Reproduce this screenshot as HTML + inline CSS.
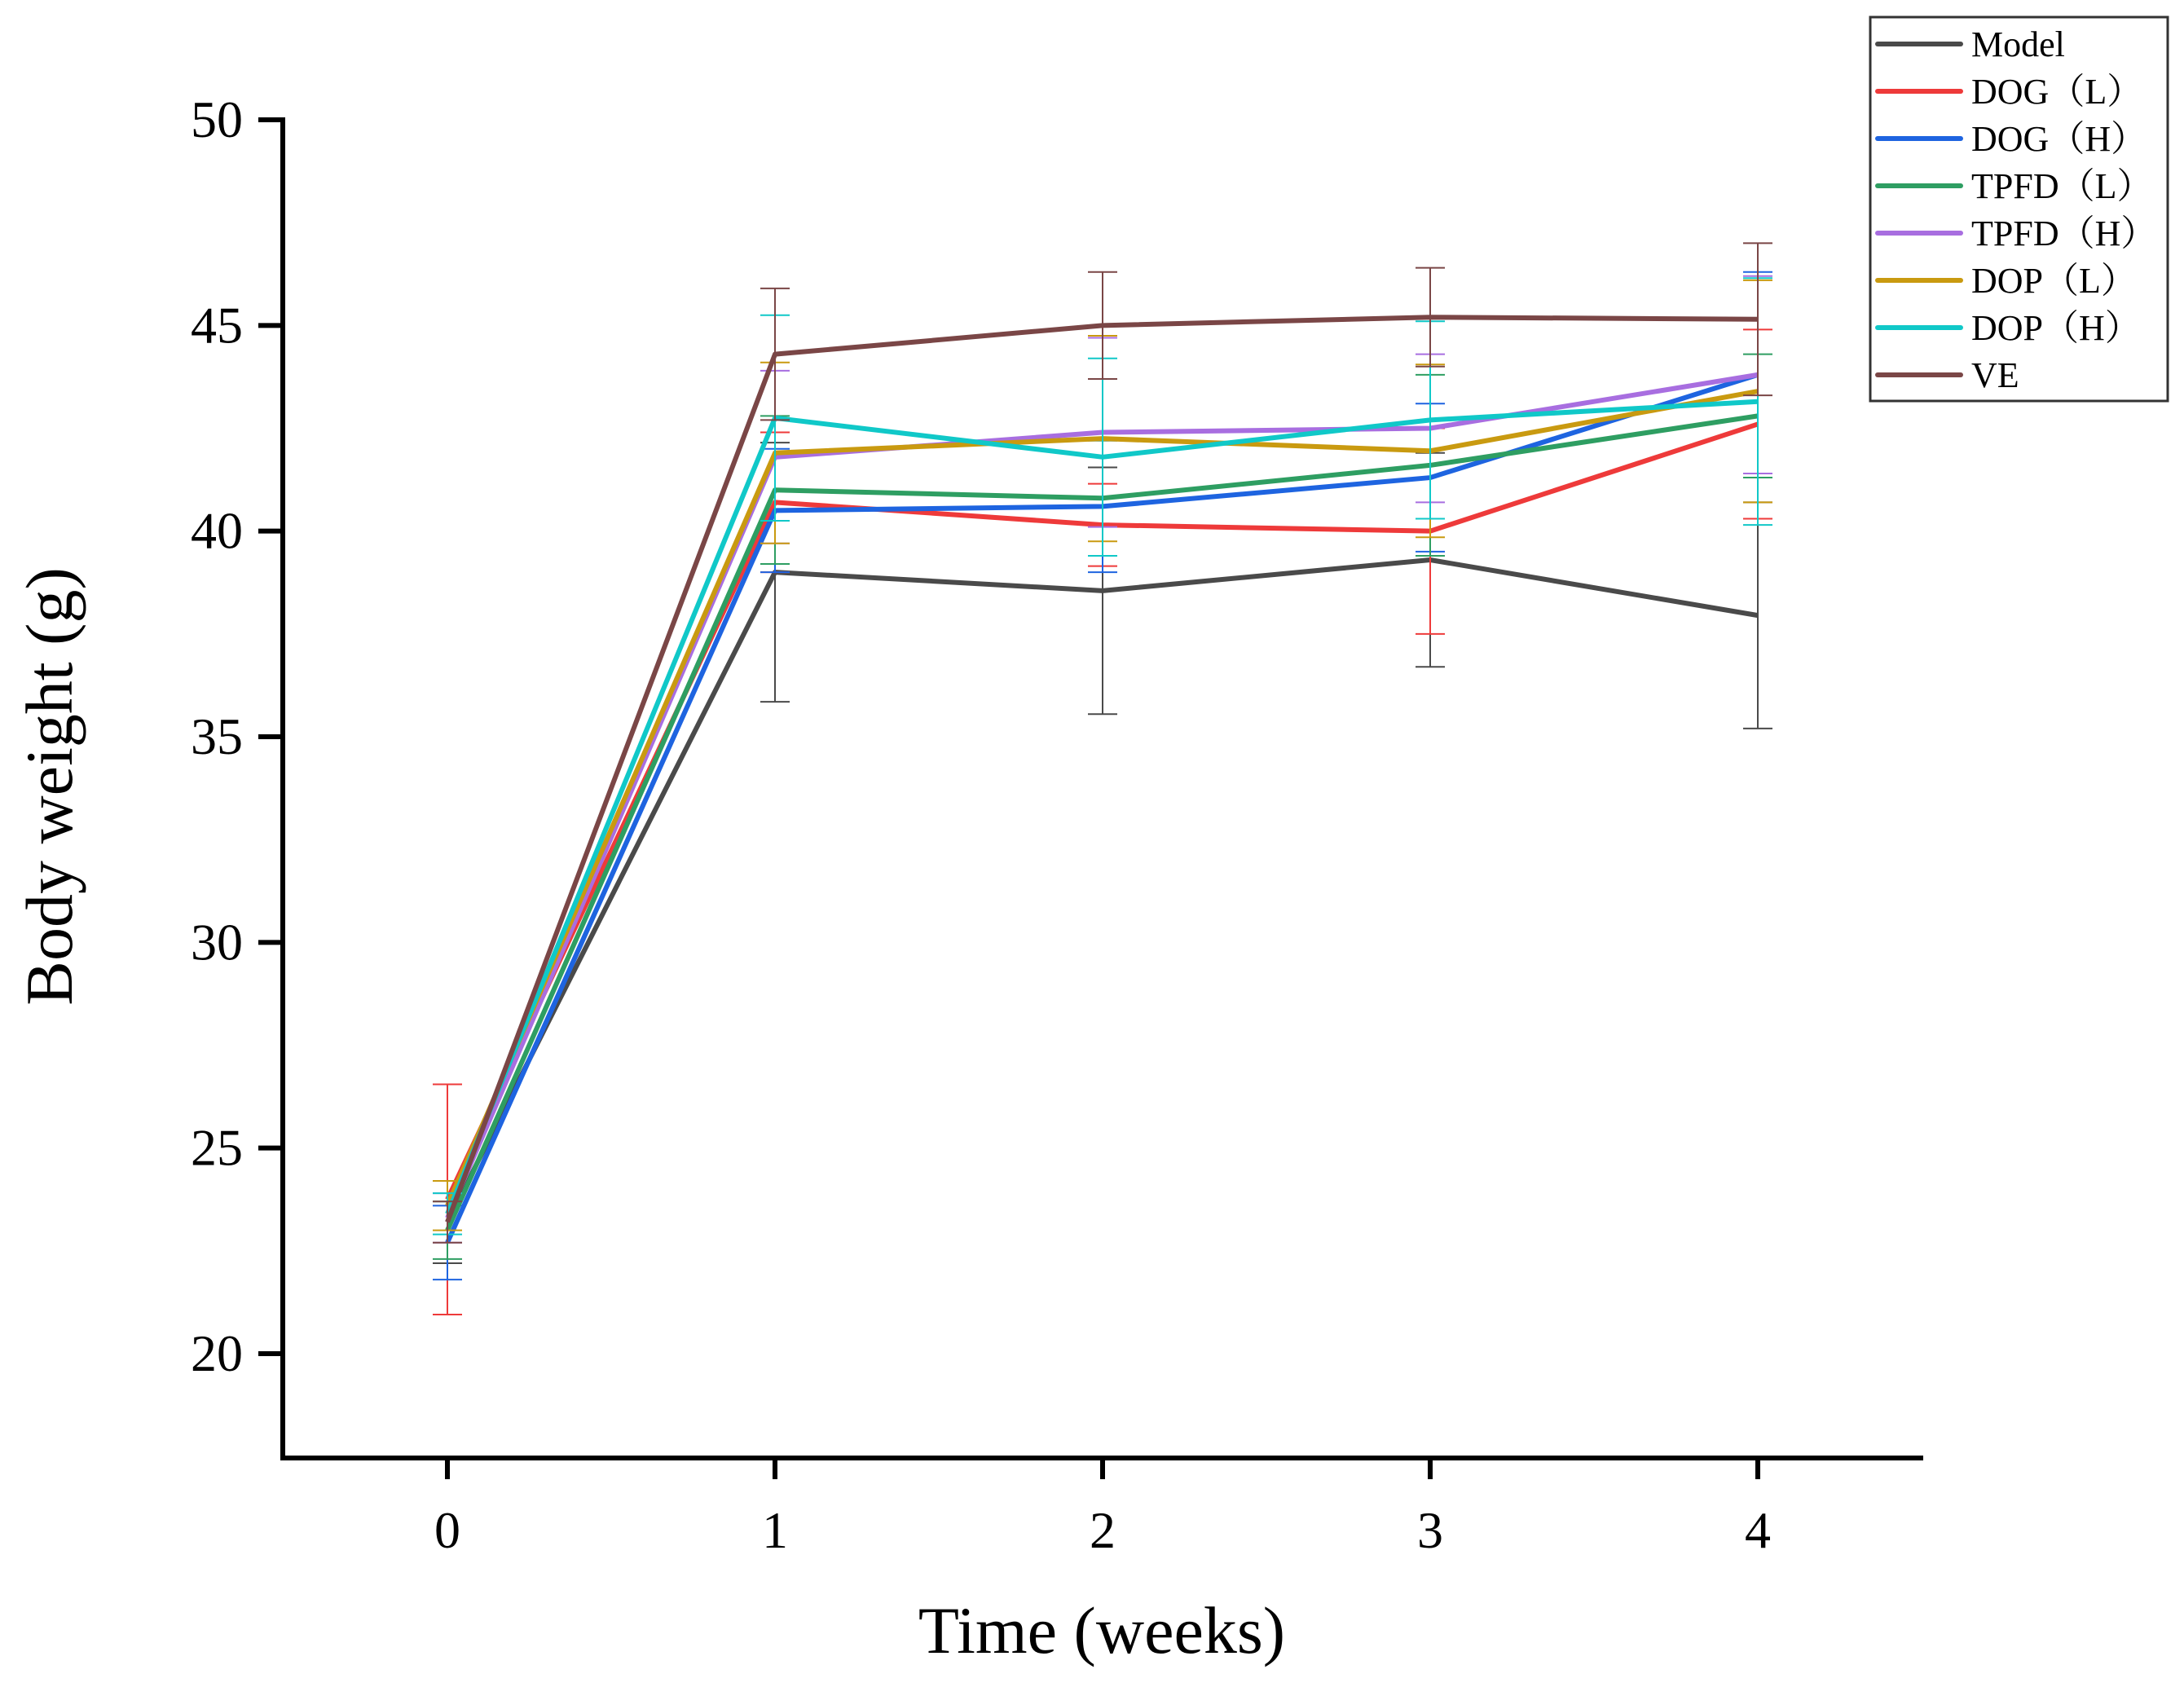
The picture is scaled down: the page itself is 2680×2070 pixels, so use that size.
<!DOCTYPE html>
<html><head><meta charset="utf-8"><style>
html,body{margin:0;padding:0;background:#fff;}
svg{display:block;font-family:"Liberation Serif","Noto Serif CJK SC",serif;}
</style></head><body>
<svg id="chart" width="2680" height="2070" viewBox="0 0 2680 2070" xmlns="http://www.w3.org/2000/svg">
<rect width="2680" height="2070" fill="#fff"/>
<g id="series-layer"></g>
<g id="axes"></g>
<text x="0" y="0" transform="translate(88,965) rotate(-90)" text-anchor="middle" font-size="82">Body weight (g)</text>
<text x="1352" y="2028" text-anchor="middle" font-size="82">Time (weeks)</text>
<g id="legend"></g>
</svg>
<script>
const weeks = [0, 1, 2, 3, 4];
const yTicks = [20, 25, 30, 35, 40, 45, 50];
const seriesNames = ["Model", "DOG（L）", "DOG（H）", "TPFD（L）", "TPFD（H）", "DOP（L）", "DOP（H）", "VE"];
const seriesColors = ["#4a4a4a", "#ee3a3a", "#1e64e0", "#2e9e62", "#a86ee0", "#c99a10", "#10c8c8", "#7a4646"];
const modelVals = [23.2, 39.0, 38.55, 39.3, 37.95];
const dogLVals = [23.75, 40.7, 40.15, 40.0, 42.6];
const dogHVals = [22.7, 40.5, 40.6, 41.3, 43.8];
const tpfdLVals = [23.0, 41.0, 40.8, 41.6, 42.8];
const tpfdHVals = [23.3, 41.8, 42.4, 42.5, 43.8];
const dopLVals = [23.6, 41.9, 42.25, 41.95, 43.4];
const dopHVals = [23.4, 42.75, 41.8, 42.7, 43.15];
const veVals = [23.2, 44.3, 45.0, 45.2, 45.15];
const modelErr = [1.0, 3.15, 3.0, 2.6, 2.75];
const dogLErr = [2.8, 1.7, 1.0, 2.5, 2.3];
const dogHErr = [0.9, 1.5, 1.6, 1.8, 2.5];
const tpfdLErr = [0.7, 1.8, 1.4, 2.2, 1.5];
const tpfdHErr = [0.6, 2.1, 2.3, 1.8, 2.4];
const dopLErr = [0.6, 2.2, 2.5, 2.1, 2.7];
const dopHErr = [0.5, 2.5, 2.4, 2.4, 3.0];
const veErr = [0.5, 1.6, 1.3, 1.2, 1.85];
const allVals = [modelVals, dogLVals, dogHVals, tpfdLVals, tpfdHVals, dopLVals, dopHVals, veVals];
const allErr = [modelErr, dogLErr, dogHErr, tpfdLErr, tpfdHErr, dopLErr, dopHErr, veErr];

const NS = "http://www.w3.org/2000/svg";
const X0 = 549, X4 = 2157, Y50 = 147, Y20 = 1661;
function xScale(w){ return X0 + (X4 - X0) * (w - 0) / 4; }
function yScale(v){ return Y20 + (Y50 - Y20) * (v - 20) / 30; }
function mk(tag, attrs, parent){ const e = document.createElementNS(NS, tag); for (const k in attrs) e.setAttribute(k, attrs[k]); parent.appendChild(e); return e; }

const axes = document.getElementById("axes");
const AXL = 347, AXB = 1789, AXR = 2360;
const yAxis = mk("line", {x1: AXL, y1: Y50 - 3, x2: AXL, y2: AXB + 3, stroke: "#000", "stroke-width": 6}, axes);


const xAxis = mk("line", {x1: AXL - 3, y1: AXB, x2: AXR, y2: AXB, stroke: "#000", "stroke-width": 6}, axes);


yTicks.forEach(t => {
  const y = yScale(t);
  const tk = mk("line", {x1: AXL - 30, y1: y, x2: AXL, y2: y, stroke: "#000", "stroke-width": 6}, axes);
  
  
  const lb = mk("text", {x: 298, y: y + 21, "text-anchor": "end", "font-size": 64}, axes);
  lb.textContent = t;
  
  
});
weeks.forEach(w => {
  const x = xScale(w);
  const tk = mk("line", {x1: x, y1: AXB, x2: x, y2: AXB + 26, stroke: "#000", "stroke-width": 6}, axes);
  
  
  const lb = mk("text", {x: x, y: 1899, "text-anchor": "middle", "font-size": 64}, axes);
  lb.textContent = w;
  
  
});

const layer = document.getElementById("series-layer");
allVals.forEach((vals, si) => {
  const g = mk("g", {}, layer);
  
  
  const col = seriesColors[si];
  vals.forEach((v, i) => {
    const x = xScale(weeks[i]), e = allErr[si][i];
    const yt = yScale(v + e), yb = yScale(v - e);
    const eb = mk("path", {d: `M${x},${yt}V${yb}M${x-18},${yt}H${x+18}M${x-18},${yb}H${x+18}`, stroke: col, "stroke-width": 2, fill: "none"}, g);
    
    
  });
  const pts = vals.map((v, i) => xScale(weeks[i]) + "," + yScale(v)).join(" ");
  const pl = mk("polyline", {points: pts, stroke: col, "stroke-width": 6, fill: "none", "stroke-linejoin": "round"}, g);
  
  
});

const lg = document.getElementById("legend");
const box = mk("rect", {x: 2295, y: 21, width: 365, height: 471, fill: "#fff", stroke: "#333", "stroke-width": 3}, lg);


seriesNames.forEach((n, i) => {
  const y = 54 + i * 58;
  const ln = mk("line", {x1: 2304, y1: y, x2: 2406, y2: y, stroke: seriesColors[i], "stroke-width": 6, "stroke-linecap": "round"}, lg);
  
  
  const t = mk("text", {x: 2419, y: y + 15, "font-size": 44}, lg);
  t.textContent = n;
  
  
});
</script>
</body></html>
